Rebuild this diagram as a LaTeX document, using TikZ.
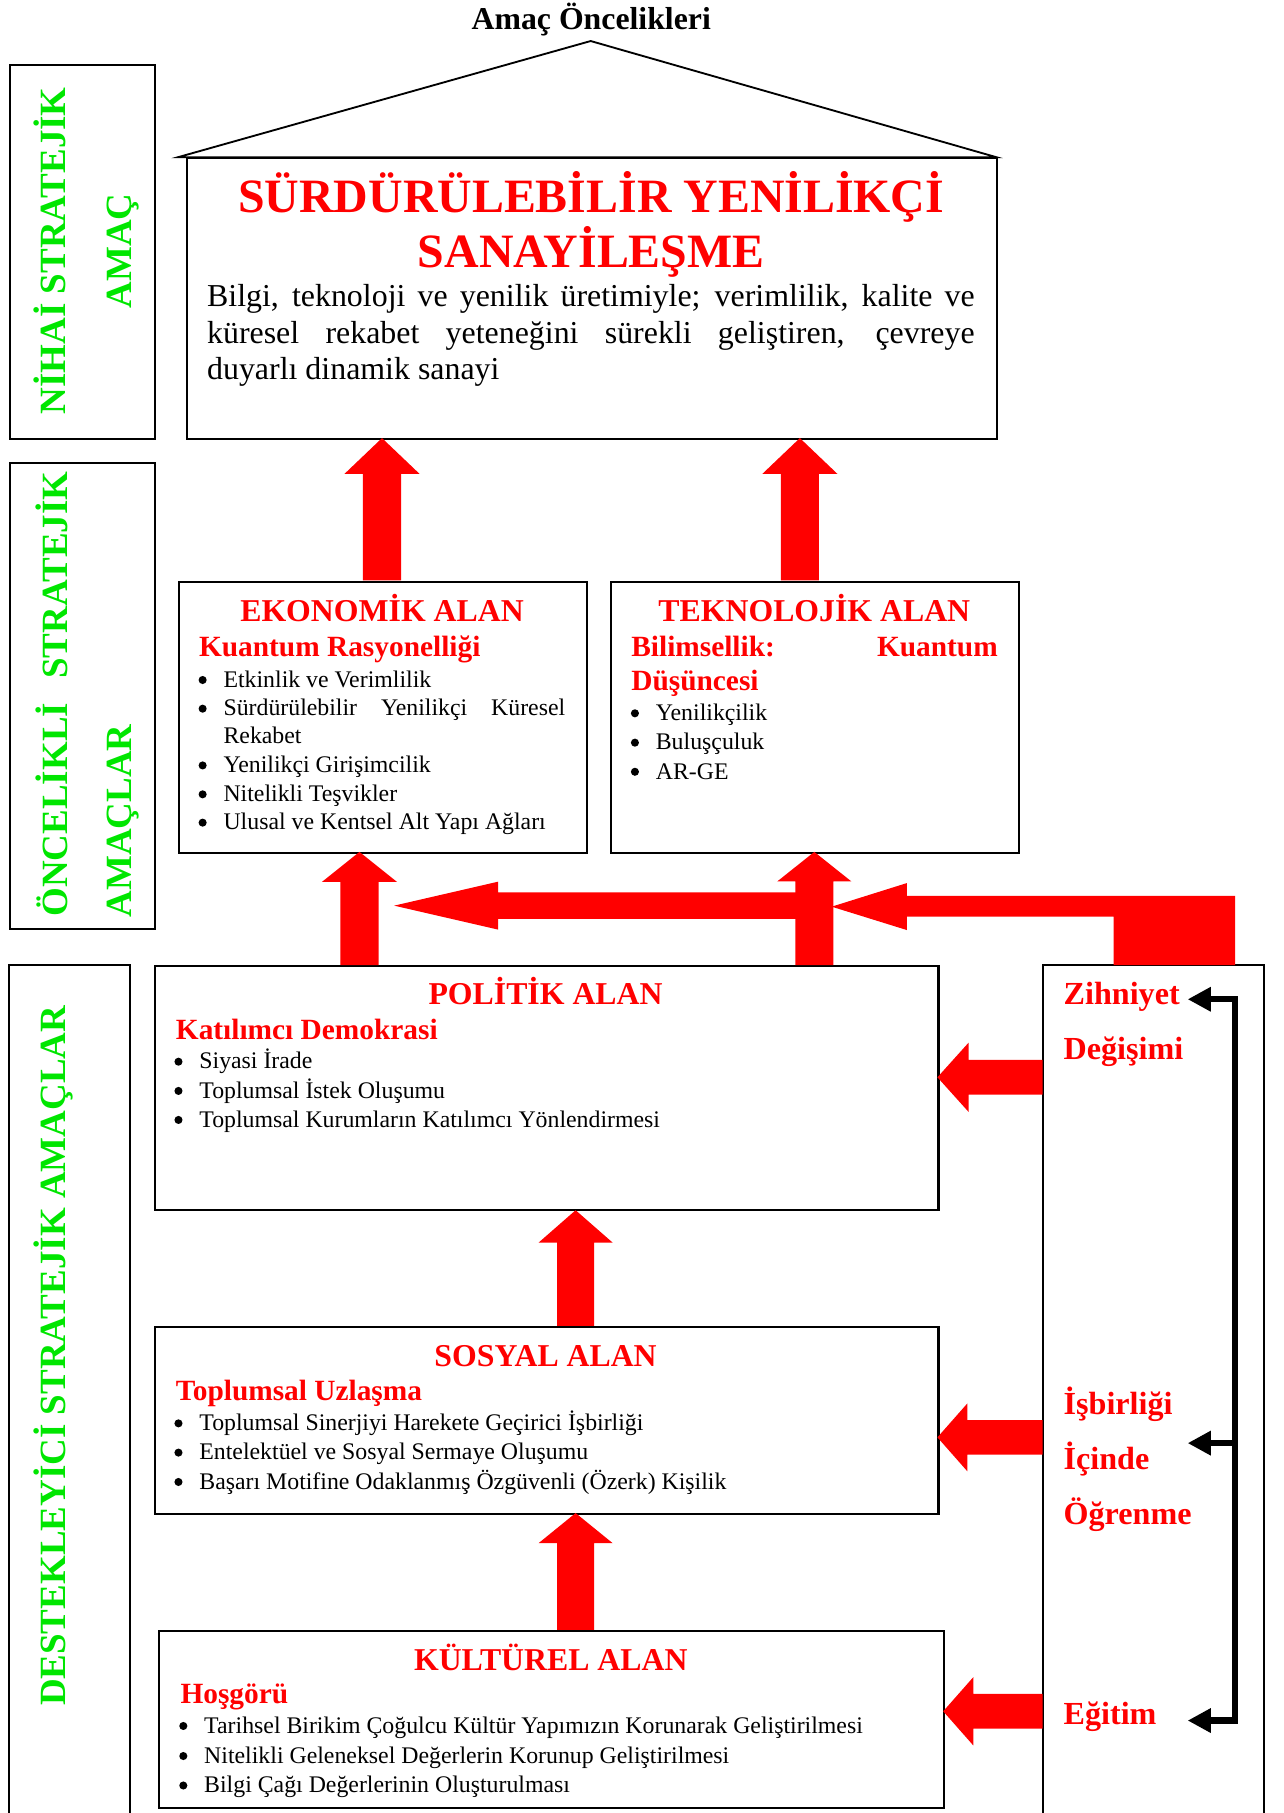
\documentclass[tikz,border=0pt]{standalone}
\usepackage{fontspec}
\setmainfont{Liberation Serif}
\usetikzlibrary{arrows.meta}
\definecolor{rd}{RGB}{255,0,0}
\definecolor{gn}{RGB}{0,230,0}
\newcommand\UpBlk[6]{\fill[rd] (#1-#5,#4) -- (#1-#5,#3) -- (#1-#6,#3) -- (#1,#2) -- (#1+#6,#3) -- (#1+#5,#3) -- (#1+#5,#4) -- cycle;}
\newcommand\LeftBlk[6]{\fill[rd] (#4,#2+#5) -- (#3,#2+#5) -- (#3,#2+#6) -- (#1,#2) -- (#3,#2-#6) -- (#3,#2-#5) -- (#4,#2-#5) -- cycle;}
\newcommand\bul[1]{\fill[black] ([xshift=-17.9pt,yshift=6.3pt]#1.base west) circle (3.5pt);}
\begin{document}
\begin{tikzpicture}[x=1pt,y=1pt,
  box/.style={draw=black,line width=1.8pt,inner sep=0pt,anchor=north west},
  ghost/.style={inner sep=0pt,anchor=north west},
  frame/.style={draw=black,line width=1.8pt},
  roofline/.style={draw=black,line width=1.6pt,line join=miter},
  ttl/.style={inner sep=0pt,anchor=base,font=\fontsize{27.5}{32}\selectfont\bfseries},
  bigt/.style={inner sep=0pt,anchor=base,text=rd,font=\fontsize{41.4}{47}\selectfont\bfseries},
  body/.style={inner sep=0pt,anchor=base west,font=\fontsize{27.6}{32}\selectfont},
  head/.style={inner sep=0pt,anchor=base,text=rd,font=\fontsize{27.5}{32}\selectfont\bfseries},
  sub/.style={inner sep=0pt,anchor=base west,text=rd,font=\fontsize{25.4}{30}\selectfont\bfseries},
  item/.style={inner sep=0pt,anchor=base west,font=\fontsize{20.6}{25}\selectfont},
  vert/.style={inner sep=0pt,rotate=90,text=gn,font=\fontsize{32}{36}\selectfont\bfseries},
  side/.style={inner sep=0pt,anchor=base west,text=rd,font=\fontsize{27.8}{32}\selectfont\bfseries},
  brk/.style={draw=black,line width=5.5pt,line join=miter},
  tip/.style={-{Triangle[length=20pt,width=20pt]}}
]
\useasboundingbox (0,0) rectangle (1110,-1568.5);

% title and roof
\node[ttl] (title) at (511.5,-25.5) {Amaç Öncelikleri};
\coordinate (roofL) at (154,-136);
\coordinate (roofT) at (511,-35.5);
\coordinate (roofR) at (862,-136);
\draw[roofline] (roofL) -- (roofT) -- (roofR) -- cycle;

% main box
\node[box,minimum width=701pt,minimum height=243pt] (main) at (161,-136) {};
\node[bigt] (mt1) at (511.5,-184) {SÜRDÜRÜLEBİLİR YENİLİKÇİ};
\node[bigt] (mt2) at (511.5,-231) {SANAYİLEŞME};
\node[body] (mb1) at (179,-265.4) {\makebox[664pt][s]{Bilgi, teknoloji ve yenilik üretimiyle; verimlilik, kalite ve}};
\node[body] (mb2) at (179,-297) {\makebox[664pt][s]{küresel rekabet yeteneğini sürekli geliştiren, çevreye}};
\node[body] (mb3) at (179,-328.7) {duyarlı dinamik sanayi};

% green side boxes
\node[box,minimum width=125pt,minimum height=324pt] (nihai) at (8,-55) {};
\node[vert,anchor=base] (nh1) at (57,-217) {NİHAİ STRATEJİK};
\node[vert,anchor=base] (nh2) at (114,-217) {AMAÇ};

\node[box,minimum width=125pt,minimum height=403pt] (onc) at (8,-400) {};
\node[vert,anchor=base] (on1) at (58,-600.5) {\makebox[385pt][s]{ÖNCELİKLİ STRATEJİK}};
\node[vert,anchor=base west] (on2) at (114,-794) {AMAÇLAR};

\node[ghost,minimum width=104pt,minimum height=760pt] (dest) at (8,-835) {};
\draw[frame] (dest.south west) -- (dest.north west) -- (dest.north east) -- (dest.south east);
\node[vert,anchor=base] (ds1) at (57,-1173) {DESTEKLEYİCİ STRATEJİK AMAÇLAR};

% EKONOMIK
\node[box,minimum width=353pt,minimum height=234pt] (eko) at (154,-503) {};
\node[head] (ekoh) at (330.5,-537.8) {EKONOMİK ALAN};
\node[sub] (ekos) at (172,-568) {Kuantum Rasyonelliği};
\node[item] (eko1) at (193.2,-594.6) {Etkinlik ve Verimlilik};
\node[item] (eko2) at (193.2,-619.4) {\makebox[295.6pt][s]{Sürdürülebilir Yenilikçi Küresel}};
\node[item] (eko2b) at (193.2,-643.6) {Rekabet};
\node[item] (eko3) at (193.2,-668.5) {Yenilikçi Girişimcilik};
\node[item] (eko4) at (193.2,-693.5) {Nitelikli Teşvikler};
\node[item] (eko5) at (193.2,-718) {Ulusal ve Kentsel Alt Yapı Ağları};
\bul{eko1}\bul{eko2}\bul{eko3}\bul{eko4}\bul{eko5}

% TEKNOLOJIK
\node[box,minimum width=353pt,minimum height=234pt] (tek) at (528,-503) {};
\node[head] (tekh) at (704.5,-537.8) {TEKNOLOJİK ALAN};
\node[sub] (teks) at (546,-568) {\makebox[317pt][s]{Bilimsellik: Kuantum}};
\node[sub] (teks2) at (546,-597) {Düşüncesi};
\node[item] (tek1) at (567.2,-623.4) {Yenilikçilik};
\node[item] (tek2) at (567.2,-648.8) {Buluşçuluk};
\node[item] (tek3) at (567.2,-674) {AR-GE};
\bul{tek1}\bul{tek2}\bul{tek3}

% POLITIK
\node[box,minimum width=678pt,minimum height=211pt] (pol) at (133,-835) {};
\node[head] (polh) at (472,-869.4) {POLİTİK ALAN};
\node[sub] (pols) at (152,-899) {Katılımcı Demokrasi};
\node[item] (pol1) at (172.3,-924.8) {Siyasi İrade};
\node[item] (pol2) at (172.3,-950.1) {Toplumsal İstek Oluşumu};
\node[item] (pol3) at (172.3,-975.2) {Toplumsal Kurumların Katılımcı Yönlendirmesi};
\bul{pol1}\bul{pol2}\bul{pol3}

% SOSYAL
\node[box,minimum width=678pt,minimum height=162pt] (sos) at (133,-1147) {};
\node[head] (sosh) at (472,-1182.3) {SOSYAL ALAN};
\node[sub] (soss) at (152,-1211.7) {Toplumsal Uzlaşma};
\node[item] (sos1) at (172.3,-1237.7) {Toplumsal Sinerjiyi Harekete Geçirici İşbirliği};
\node[item] (sos2) at (172.3,-1263) {Entelektüel ve Sosyal Sermaye Oluşumu};
\node[item] (sos3) at (172.3,-1288.4) {Başarı Motifine Odaklanmış Özgüvenli (Özerk) Kişilik};
\bul{sos1}\bul{sos2}\bul{sos3}

% KULTUREL
\node[box,minimum width=679pt,minimum height=153pt] (kul) at (137,-1410) {};
\node[head] (kulh) at (476.5,-1444.8) {KÜLTÜREL ALAN};
\node[sub] (kuls) at (156,-1473.6) {Hoşgörü};
\node[item] (kul1) at (176.5,-1499.5) {Tarihsel Birikim Çoğulcu Kültür Yapımızın Korunarak Geliştirilmesi};
\node[item] (kul2) at (176.5,-1525.5) {Nitelikli Geleneksel Değerlerin Korunup Geliştirilmesi};
\node[item] (kul3) at (176.5,-1551) {Bilgi Çağı Değerlerinin Oluşturulması};
\bul{kul1}\bul{kul2}\bul{kul3}

% right box
\node[ghost,minimum width=191pt,minimum height=760pt] (rbox) at (902,-835) {};
\draw[frame] (rbox.south west) -- (rbox.north west) -- (rbox.north east) -- (rbox.south east);
\node[side] (z1) at (920,-869.4) {Zihniyet};
\node[side] (z2) at (920,-917) {Değişimi};
\node[side] (i1) at (920,-1224) {İşbirliği};
\node[side] (i2) at (920,-1271.7) {İçinde};
\node[side] (i3) at (920,-1319.2) {Öğrenme};
\node[side] (eg) at (920,-1492) {Eğitim};

% black bracket
\coordinate (cT) at (1068.5,-864.5);
\coordinate (cM) at (1068.5,-1248.5);
\coordinate (cB) at (1068.5,-1488.5);
\coordinate (tT) at (1027.5,-864.5);
\coordinate (tM) at (1027.5,-1248.5);
\coordinate (tB) at (1027.5,-1488.5);
\draw[brk,{Triangle[length=20pt,width=20pt]}-{Triangle[length=20pt,width=20pt]}] (tT) -- (cT) -- (cB) -- (tB);
\draw[brk,tip] (cM) -- (tM);

% red block arrows
\UpBlk{330.5}{-379}{-410}{-502}{16.5}{32.5}
\UpBlk{692}{-379}{-410}{-502}{16.5}{32.5}
\UpBlk{311}{-737}{-763}{-835}{16.5}{32.5}
\UpBlk{704.5}{-737}{-762.5}{-835}{16.5}{32}
\UpBlk{498}{-1047}{-1075}{-1147}{16}{32}
\UpBlk{498}{-1309}{-1335}{-1410}{16}{32}
\LeftBlk{341}{-783.5}{431}{690}{11.5}{20.75}
\fill[rd] (1068.5,-775) -- (784.5,-775) -- (784.5,-764) -- (719.5,-784.4) -- (784.5,-804.6) -- (784.5,-793) -- (963.5,-793) -- (963.5,-835) -- (1068.5,-835) -- cycle;
\LeftBlk{811}{-932}{838}{902}{15}{30}
\LeftBlk{811}{-1243.5}{837}{902}{15}{29.5}
\LeftBlk{816}{-1480.5}{842}{902}{15}{29.5}
\end{tikzpicture}
\end{document}
